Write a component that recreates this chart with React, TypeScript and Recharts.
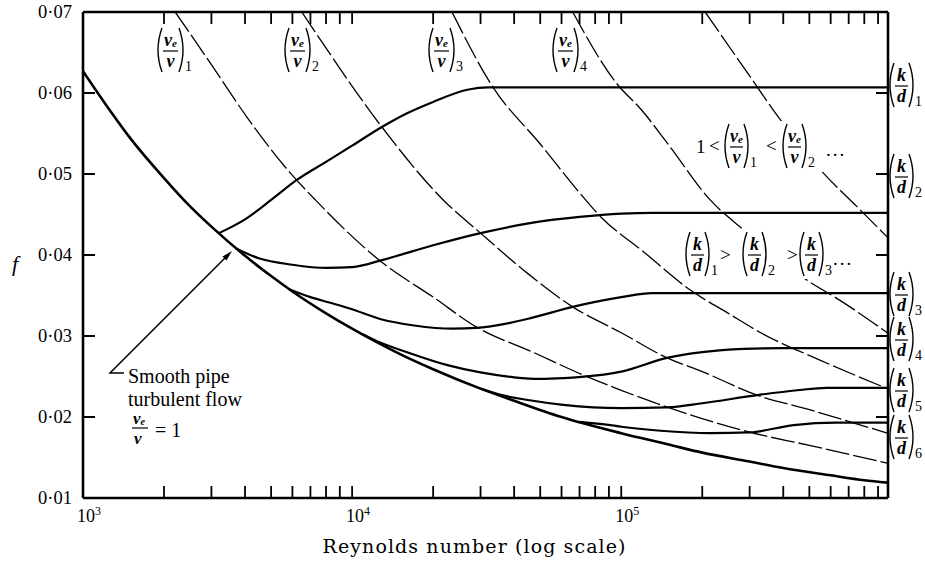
import React from "react";
import { LineChart, Line, XAxis, YAxis } from "recharts";

const W = 925;
const H = 562;
const INK = "#000";
const SERIF = "'Liberation Serif', 'Times New Roman', serif";

// [Reynolds number, f]
const smoothPipe: [number, number][] = [
  [1000, 0.0627], [1250, 0.058], [1500, 0.0544], [2000, 0.0495], [2500, 0.046],
  [3000, 0.0435], [4000, 0.0399], [5000, 0.0374], [6000, 0.0355], [8000, 0.0328],
  [10000, 0.0309], [15000, 0.0278], [20000, 0.0259], [30000, 0.0235], [40000, 0.022],
  [60000, 0.02], [100000, 0.018], [150000, 0.0166], [200000, 0.0156], [300000, 0.0145],
  [400000, 0.0137], [600000, 0.0128], [800000, 0.0122], [975000, 0.0119],
];

// rough pipes, (k/d)1 .. (k/d)6
const kd1: [number, number][] = [
  [3200, 0.0427], [4000, 0.0444], [5000, 0.0468], [6250, 0.0493], [8000, 0.0515],
  [10000, 0.0535], [12900, 0.0558], [16000, 0.0575], [20000, 0.0589], [26800, 0.0604],
  [32000, 0.0607], [975000, 0.0607],
];
const kd2: [number, number][] = [
  [3700, 0.0408], [4500, 0.0396], [6000, 0.0388], [8000, 0.0384], [10000, 0.0385],
  [13000, 0.0394], [20000, 0.0412], [30000, 0.0427], [47000, 0.044], [70000, 0.0447],
  [100000, 0.0451], [130000, 0.0452], [975000, 0.0452],
];
const kd3: [number, number][] = [
  [5800, 0.0358], [7000, 0.0348], [8300, 0.0341], [10000, 0.0333], [12700, 0.0321],
  [17000, 0.0313], [23700, 0.0309], [29000, 0.031], [37000, 0.0315], [46000, 0.0322],
  [66000, 0.0336], [100000, 0.0348], [130000, 0.0353], [975000, 0.0353],
];
const kd4: [number, number][] = [
  [11000, 0.0302], [12700, 0.0292], [16000, 0.028], [22600, 0.0264], [30000, 0.0255],
  [40000, 0.0249], [50000, 0.0247], [61000, 0.0248], [100000, 0.0256], [148000, 0.0273],
  [200000, 0.028], [285000, 0.0284], [400000, 0.0285], [975000, 0.0285],
];
const kd5: [number, number][] = [
  [30000, 0.0235], [36000, 0.0227], [45000, 0.0221], [61000, 0.0215], [100000, 0.0211],
  [148000, 0.0212], [200000, 0.0217], [320000, 0.0227], [450000, 0.0233], [580000, 0.0236],
  [975000, 0.0236],
];
const kd6: [number, number][] = [
  [70000, 0.0194], [91000, 0.019], [100000, 0.0188], [140000, 0.0183], [214000, 0.018],
  [300000, 0.0181], [437000, 0.019], [630000, 0.0193], [975000, 0.0193],
];

// eddy viscosity curves, (ve/v)1 .. and one more
const nu1: [number, number][] = [
  [2200, 0.07], [3000, 0.0635], [4070, 0.057], [5900, 0.0501], [7300, 0.0468],
  [12900, 0.0391], [20000, 0.0348], [29000, 0.0311], [47000, 0.028], [72000, 0.0252],
  [100000, 0.0233], [152000, 0.0211], [302000, 0.0181], [500000, 0.0165], [975000, 0.0143],
];
const nu2: [number, number][] = [
  [6500, 0.07], [7200, 0.0678], [12900, 0.0558], [21800, 0.0468], [30000, 0.0427],
  [45000, 0.0377], [66000, 0.0336], [100000, 0.0304], [148000, 0.0273], [200000, 0.0256],
  [320000, 0.0227], [500000, 0.0209], [975000, 0.018],
];
const nu3: [number, number][] = [
  [23500, 0.07], [33400, 0.0607], [50000, 0.0537], [72000, 0.0472], [84000, 0.0447],
  [120000, 0.0405], [180000, 0.0357], [250000, 0.0328], [330000, 0.0304], [550000, 0.027],
  [975000, 0.0235],
];
const nu4: [number, number][] = [
  [66000, 0.07], [96000, 0.0612], [119000, 0.0579], [150000, 0.0536], [214000, 0.0468],
  [285000, 0.0431], [490000, 0.0369], [650000, 0.0344], [975000, 0.0304],
];
const nu5: [number, number][] = [
  [205000, 0.07], [300000, 0.0621], [390000, 0.0567], [564000, 0.0501], [750000, 0.046],
  [975000, 0.0422],
];

const reTicks = [
  1000, 2000, 3000, 4000, 5000, 6000, 7000, 8000, 9000,
  10000, 20000, 30000, 40000, 50000, 60000, 70000, 80000, 90000,
  100000, 200000, 300000, 400000, 500000, 600000, 700000, 800000, 900000,
];
const reDecades = [1000, 10000, 100000];
const reExponents = ["3", "4", "5"];
const fTicks = [0.01, 0.02, 0.03, 0.04, 0.05, 0.06, 0.07];

const roughCurves = [kd1, kd2, kd3, kd4, kd5, kd6];
const viscCurves = [nu1, nu2, nu3, nu4, nu5];

const toPoints = (rows: [number, number][]) => rows.map(([re, f]) => ({ re, f }));

function BottomTick(props: any) {
  const { x, y, payload } = props;
  const i = reDecades.indexOf(payload.value);
  return (
    <g>
      {payload.value > 1000 && (
        <line x1={x} x2={x} y1={y} y2={y - 12} stroke={INK} strokeWidth={1.8} />
      )}
      {i >= 0 && (
        <text x={x + 6} y={y + 24} textAnchor="middle" fontFamily={SERIF} fontSize={18} fill={INK}>
          10<tspan dy={-7} fontSize={12}>{reExponents[i]}</tspan>
        </text>
      )}
    </g>
  );
}

function TopTick(props: any) {
  const { x, y, payload } = props;
  if (payload.value <= 1000) return <g />;
  return <line x1={x} x2={x} y1={y} y2={y + 12} stroke={INK} strokeWidth={1.8} />;
}

function LeftTick(props: any) {
  const { x, y, payload } = props;
  const v = payload.value;
  return (
    <g>
      {v > 0.0105 && v < 0.0695 && (
        <line x1={x} x2={x + 12} y1={y} y2={y} stroke={INK} strokeWidth={2} />
      )}
      <text x={x - 11} y={y + 6} textAnchor="end" fontFamily={SERIF} fontSize={18.5} fill={INK}>
        {v.toFixed(2).replace(".", "·")}
      </text>
    </g>
  );
}

function RightTick(props: any) {
  const { x, y, payload } = props;
  const v = payload.value;
  if (v < 0.0105 || v > 0.0695) return <g />;
  return <line x1={x} x2={x - 12} y1={y} y2={y} stroke={INK} strokeWidth={2} />;
}

function Frac({ x, cy, top, topSub, bottom, sub, w = 25 }: {
  x: number; cy: number; top: string; topSub?: string; bottom: string; sub?: string; w?: number;
}) {
  const h = 44;
  const mid = x + w / 2;
  return (
    <g fill={INK} fontFamily={SERIF}>
      <path d={`M${x + 5},${cy - h / 2} Q${x - 3},${cy} ${x + 5},${cy + h / 2}`} fill="none" stroke={INK} strokeWidth={1.4} />
      <path d={`M${x + w - 5},${cy - h / 2} Q${x + w + 3},${cy} ${x + w - 5},${cy + h / 2}`} fill="none" stroke={INK} strokeWidth={1.4} />
      <text x={mid} y={cy - 4} textAnchor="middle" fontSize={18} fontStyle="italic" fontWeight="bold">
        {top}
        {topSub && <tspan fontSize={11} dy={1}>{topSub}</tspan>}
      </text>
      <line x1={x + 6} x2={x + w - 6} y1={cy + 1} y2={cy + 1} stroke={INK} strokeWidth={1.2} />
      <text x={mid} y={cy + 17} textAnchor="middle" fontSize={18} fontStyle="italic" fontWeight="bold">
        {bottom}
      </text>
      {sub && <text x={x + w + 1} y={cy + 21} fontSize={14}>{sub}</text>}
    </g>
  );
}

const nuLabelX = [157, 284, 428, 552];
const kdLabelY = [85, 176, 294, 339, 390, 437];

function Overlay() {
  return (
    <svg width={W} height={H} style={{ position: "absolute", left: 0, top: 0, pointerEvents: "none" }}>
      {nuLabelX.map((x, i) => (
        <Frac key={x} x={x} cy={50} top="ν" topSub="e" bottom="ν" sub={String(i + 1)} w={27} />
      ))}
      {kdLabelY.map((cy, i) => (
        <Frac key={cy} x={889} cy={cy} top="k" bottom="d" sub={String(i + 1)} w={25} />
      ))}

      <rect x={694} y={121} width={164} height={51} fill="#fff" />
      <g fontFamily={SERIF} fontSize={19} fill={INK}>
        <text x={696} y={153}>1</text>
        <text x={709} y={152}>&lt;</text>
        <text x={766} y={152}>&lt;</text>
        <text x={826} y={156} letterSpacing={2}>...</text>
      </g>
      <Frac x={724} cy={146} top="ν" topSub="e" bottom="ν" sub="1" />
      <Frac x={782} cy={146} top="ν" topSub="e" bottom="ν" sub="2" />

      <rect x={681} y={229} width={177} height={50} fill="#fff" />
      <g fontFamily={SERIF} fontSize={19} fill={INK}>
        <text x={720} y={261}>&gt;</text>
        <text x={787} y={261}>&gt;</text>
        <text x={833} y={265} letterSpacing={2}>...</text>
      </g>
      <Frac x={685} cy={254} top="k" bottom="d" sub="1" />
      <Frac x={742} cy={254} top="k" bottom="d" sub="2" />
      <Frac x={799} cy={254} top="k" bottom="d" sub="3" />

      {/* smooth pipe annotation */}
      <path d="M124,373 L110,373 L227,256" fill="none" stroke={INK} strokeWidth={1.5} />
      <polygon points="232,251 226.5,260.5 222.5,256.5" fill={INK} />
      <g fontFamily={SERIF} fontSize={20} fill={INK}>
        <text x={128} y={383}>Smooth pipe</text>
        <text x={128} y={406}>turbulent flow</text>
        <text x={133} y={424} fontStyle="italic" fontWeight="bold" fontSize={17}>
          ν<tspan fontSize={10} dy={1}>e</tspan>
        </text>
        <line x1={132} x2={148} y1={428} y2={428} stroke={INK} strokeWidth={1.2} />
        <text x={134} y={444} fontStyle="italic" fontWeight="bold" fontSize={17}>ν</text>
        <text x={155} y={437}>= 1</text>
      </g>

      <text x={12} y={271} fontFamily={SERIF} fontSize={22} fontStyle="italic" fill={INK}>f</text>
      <text x={474} y={553} textAnchor="middle" fontFamily="'DejaVu Serif', serif" fontSize={19}
        textLength={303} lengthAdjust="spacing" fill={INK}>
        Reynolds number (log scale)
      </text>
    </svg>
  );
}

export default function App() {
  const axisStroke = { stroke: INK, strokeWidth: 2.6 };
  return (
    <div style={{ position: "absolute", left: 0, top: 0, width: W, height: H, background: "#fff" }}>
      <LineChart width={W} height={H} margin={{ top: 0, right: 0, bottom: 0, left: 0 }}>
        <XAxis xAxisId="b" dataKey="re" type="number" scale="log" domain={[1000, 980000]}
          allowDataOverflow ticks={reTicks} interval={0} height={64} tickSize={0} tickMargin={0}
          tickLine={false} axisLine={axisStroke} tick={(p: any) => <BottomTick {...p} />} />
        <XAxis xAxisId="t" orientation="top" dataKey="re" type="number" scale="log"
          domain={[1000, 980000]} allowDataOverflow ticks={reTicks} interval={0} height={12}
          tickSize={0} tickMargin={0} tickLine={false} axisLine={axisStroke}
          tick={(p: any) => <TopTick {...p} />} />
        <YAxis yAxisId="l" type="number" domain={[0.01, 0.07]} allowDataOverflow ticks={fTicks}
          interval={0} width={83} tickSize={0} tickMargin={0} tickLine={false} axisLine={axisStroke}
          tick={(p: any) => <LeftTick {...p} />} />
        <YAxis yAxisId="r" orientation="right" type="number" domain={[0.01, 0.07]} allowDataOverflow
          ticks={fTicks} interval={0} width={37} tickSize={0} tickMargin={0} tickLine={false}
          axisLine={axisStroke} tick={(p: any) => <RightTick {...p} />} />

        {viscCurves.map((rows, i) => (
          <Line key={`nu${i}`} xAxisId="b" yAxisId="l" data={toPoints(rows)} dataKey="f"
            type="monotone" stroke={INK} strokeWidth={1.3} strokeDasharray="24 4" dot={false}
            activeDot={false} isAnimationActive={false} />
        ))}
        {roughCurves.map((rows, i) => (
          <Line key={`kd${i}`} xAxisId="b" yAxisId="l" data={toPoints(rows)} dataKey="f"
            type="monotone" stroke={INK} strokeWidth={2.2} dot={false} activeDot={false}
            isAnimationActive={false} />
        ))}
        <Line xAxisId="b" yAxisId="l" data={toPoints(smoothPipe)} dataKey="f" type="monotone"
          stroke={INK} strokeWidth={2.6} dot={false} activeDot={false} isAnimationActive={false} />
      </LineChart>
      <Overlay />
    </div>
  );
}
